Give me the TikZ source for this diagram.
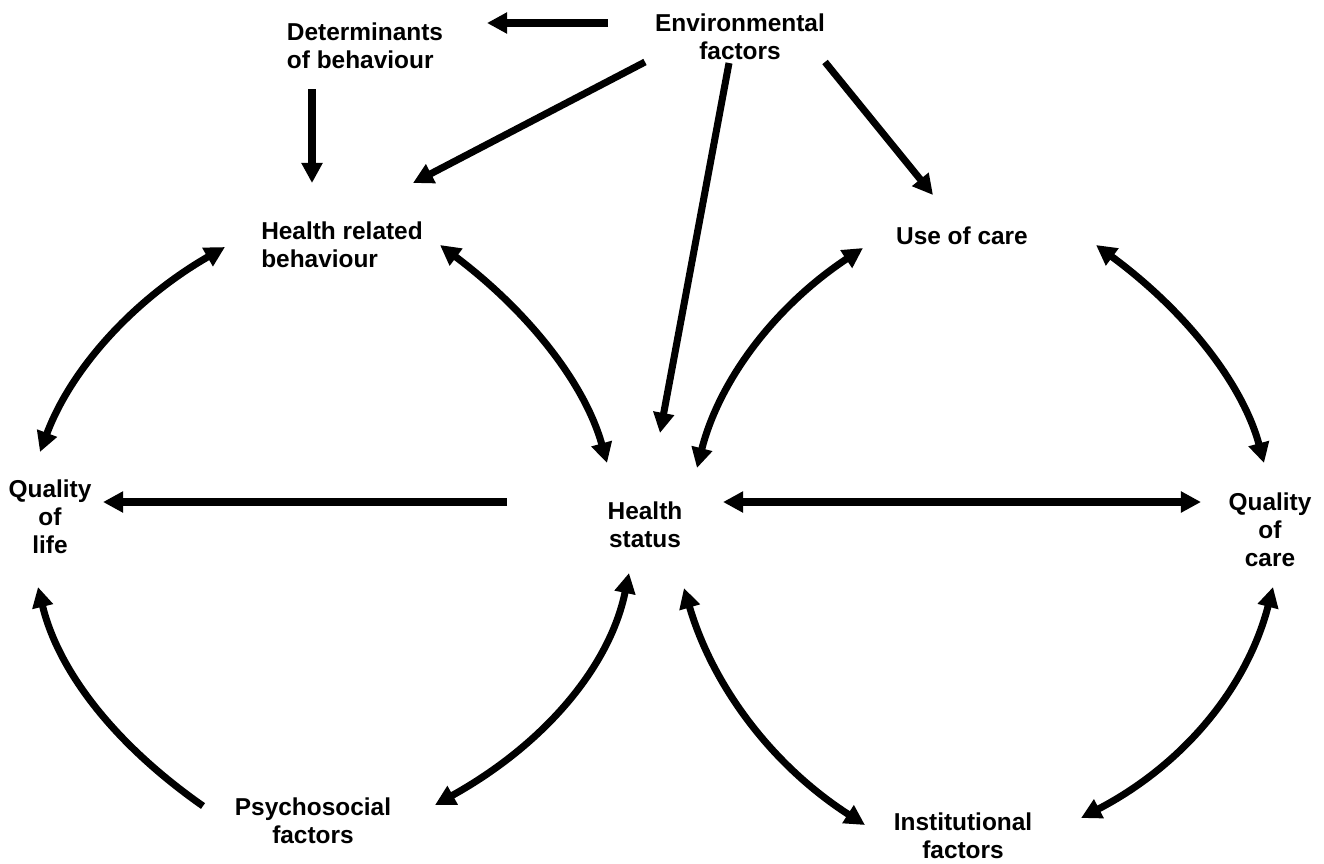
\documentclass[tikz,border=0pt]{standalone}
\usepackage{fontspec}
\setmainfont{Liberation Sans}
\usetikzlibrary{arrows.meta,calc}

\begin{document}
\begin{tikzpicture}[
  x=0.02cm, y=-0.02cm,
  lbl/.style={inner sep=0pt, font=\fontsize{13.9}{16}\selectfont\bfseries},
  arr/.style={-{Triangle[length=11.5pt,width=11.5pt]}, line width=4pt},
  biarr/.style={{Triangle[length=11.5pt,width=11.5pt]}-{Triangle[length=11.5pt,width=11.5pt]}, line width=4pt}
]
  \useasboundingbox (0,0) rectangle (1324,863);

  % Labels
  \node[lbl, align=left]   (det)  at (365,46)  {Determinants\\of behaviour};
  \node[lbl, align=center] (env)  at (740,37)  {Environmental\\factors};
  \node[lbl, align=left]   (hrb)  at (342,245) {Health related\\behaviour};
  \node[lbl, align=center] (uoc)  at (962,236) {Use of care};
  \node[lbl, align=center] (qol)  at (50,517)  {Quality\\of\\life};
  \node[lbl, align=center] (hs)   at (645,525) {Health\\status};
  \node[lbl, align=center] (qoc)  at (1270,530) {Quality\\of\\care};
  \node[lbl, align=center] (psy)  at (313,821) {Psychosocial\\factors};
  \node[lbl, align=center] (inst) at (963,836) {Institutional\\factors};

  % Straight arrows from the top
  \draw[arr] ($(env)+(-132,-14)$) -- ($(det)+(122,-23)$);
  \draw[arr] ($(det)+(-53,43)$) -- ($(hrb)+(-30,-62)$);
  \draw[arr] ($(env)+(-95,25)$) -- ($(hrb)+(71,-62)$);
  \draw[arr] ($(env)+(-11,26)$) -- ($(hs)+(15,-92)$);
  \draw[arr] ($(env)+(85,25)$) -- ($(uoc)+(-29,-41)$);

  % Horizontal arrows
  \draw[arr] ($(hs)+(-138,-23)$) -- ($(qol)+(53,-15)$);
  \draw[biarr] ($(hs)+(78,-23)$) -- ($(qoc)+(-69,-28)$);

  % Upper arcs
  \draw[biarr] ($(hrb)+(-117,2)$) .. controls (133,300) and (71,369) .. ($(qol)+(-10,-65)$);
  \draw[biarr] ($(hrb)+(98,0)$) .. controls (529,312) and (585,384) .. ($(hs)+(-38,-62)$);
  \draw[biarr] ($(uoc)+(-99,12)$) .. controls (774,307) and (719,381) .. ($(hs)+(52,-57)$);
  \draw[biarr] ($(uoc)+(134,9)$) .. controls (1187,312) and (1243,385) .. ($(qoc)+(-6,-67)$);

  % Lower arcs
  \draw[arr] ($(psy)+(-110,-15)$) .. controls (113,743) and (58,670) .. ($(qol)+(-12,70)$);
  \draw[biarr] ($(hs)+(-16,48)$) .. controls (610,666) and (545,744) .. ($(psy)+(122,-16)$);
  \draw[biarr] ($(hs)+(39,63)$) .. controls (713,687) and (773,766) .. ($(inst)+(-98,-11)$);
  \draw[biarr] ($(qoc)+(3,57)$) .. controls (1247,688) and (1183,765) .. ($(inst)+(118,-18)$);
\end{tikzpicture}
\end{document}
